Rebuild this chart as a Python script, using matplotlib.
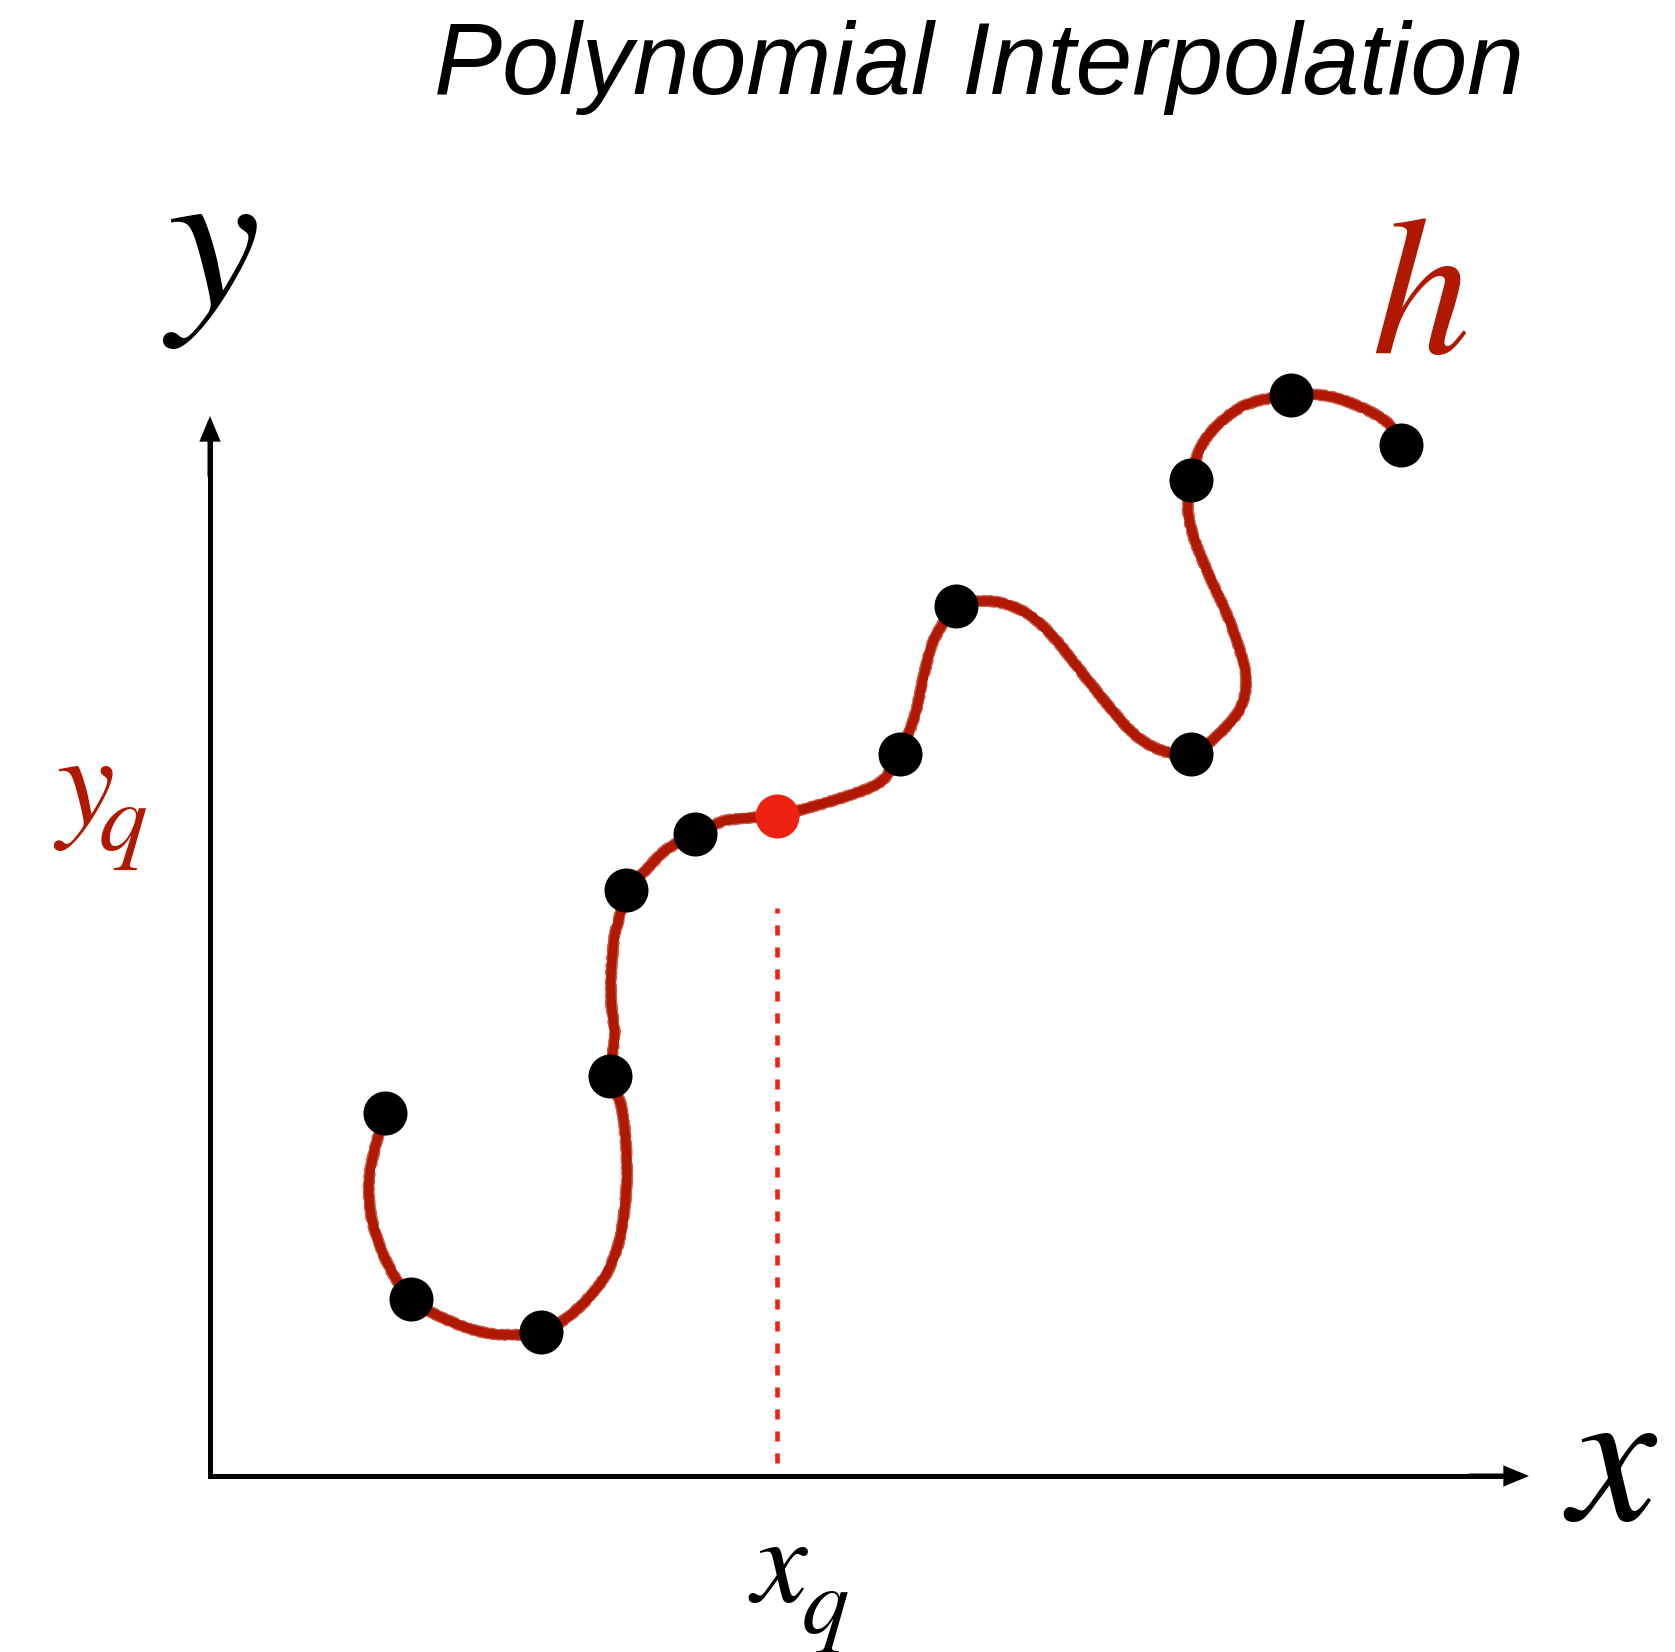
import numpy as np
import matplotlib
matplotlib.use("Agg")
import matplotlib.pyplot as plt
from matplotlib.path import Path
from matplotlib.patches import PathPatch

plt.rcParams['mathtext.fontset'] = 'stix'

# ---- data (chart units, origin at the axes corner) ----
node_x = [1.75, 2.01, 3.31, 4.00, 4.16, 4.85, 6.90, 7.46, 9.81, 9.81, 10.81, 11.91]
node_y = [3.63, 1.77, 1.44, 4.00, 5.86, 6.42, 7.22, 8.70, 7.22, 9.96, 10.81, 10.31]
query_x = 5.67
query_y = 6.60

# traced path of the interpolating curve h
curve_x = [1.753, 1.646, 1.589, 1.613, 1.713, 1.846, 2.006, 2.296, 2.629, 2.929,
           3.306, 3.629, 3.929, 4.096, 4.163, 4.163, 4.113, 4.003, 4.046, 4.013,
           4.013, 4.046, 4.096, 4.163, 4.363, 4.563, 4.846, 5.129, 5.363, 5.669,
           6.029, 6.363, 6.629, 6.763, 6.896, 7.046, 7.129, 7.213, 7.313, 7.463,
           7.829, 8.163, 8.429, 8.696, 8.963, 9.229, 9.496, 9.813, 10.063, 10.296,
           10.363, 10.296, 10.163, 9.996, 9.846, 9.779, 9.813, 9.896, 10.063, 10.363,
           10.806, 11.196, 11.563, 11.796, 11.913]
curve_y = [3.630, 3.263, 2.930, 2.596, 2.263, 1.996, 1.770, 1.596, 1.463, 1.413,
           1.440, 1.630, 1.963, 2.363, 2.863, 3.263, 3.696, 4.003, 4.396, 4.730,
           5.063, 5.396, 5.596, 5.856, 6.063, 6.263, 6.420, 6.546, 6.580, 6.603,
           6.696, 6.796, 6.896, 6.996, 7.220, 7.596, 7.963, 8.296, 8.496, 8.703,
           8.746, 8.630, 8.396, 8.063, 7.730, 7.430, 7.263, 7.220, 7.396, 7.663,
           7.963, 8.263, 8.630, 8.996, 9.363, 9.663, 9.963, 10.263, 10.496, 10.713,
           10.806, 10.796, 10.663, 10.513, 10.313]

title = "Polynomial Interpolation"

# ---- figure ----
W, H, DPI = 1675, 1652, 100
fig = plt.figure(figsize=(W / DPI, H / DPI), dpi=DPI)
ax = fig.add_axes([0, 0, 1, 1])
# 1 chart unit = 100 px; origin at pixel (210, 1476)
ax.set_xlim(-2.10, -2.10 + W / 100)
ax.set_ylim(-(H - 1476.0) / 100, 1476.0 / 100)
ax.axis('off')

CURVE = '#B01800'
QRED = '#EE2211'

# smooth curve (Catmull-Rom rendered as cubic Bezier path)
P = np.column_stack([curve_x, curve_y])
Pe = np.vstack([P[0], P, P[-1]])
verts = [tuple(P[0])]
codes = [Path.MOVETO]
for i in range(1, len(Pe) - 2):
    p0, p1, p2, p3 = Pe[i - 1], Pe[i], Pe[i + 1], Pe[i + 2]
    c1 = p1 + (p2 - p0) / 6.0
    c2 = p2 - (p3 - p1) / 6.0
    verts += [tuple(c1), tuple(c2), tuple(p2)]
    codes += [Path.CURVE4] * 3
hpath = Path(verts, codes)
base = PathPatch(hpath, facecolor='none', edgecolor=CURVE,
                 lw=6.6, capstyle='round', joinstyle='round', zorder=2)
ax.add_patch(base)
rough = PathPatch(hpath, facecolor='none', edgecolor=CURVE, alpha=0.7,
                  lw=7.6, capstyle='round', joinstyle='round', zorder=2)
rough.set_sketch_params(scale=1.0, length=2.5, randomness=8)
ax.add_patch(rough)

# axes lines and arrows
AX_LW = 3.6
ax.plot([0, 0, 13.0], [10.4, 0, 0], color='black', lw=AX_LW,
        solid_capstyle='butt', solid_joinstyle='miter', zorder=1)
head = '-|>,head_length=0.6,head_width=0.25'
ax.annotate('', xy=(0, 10.60), xytext=(0, 10.0),
            arrowprops=dict(arrowstyle=head, lw=AX_LW, color='black',
                            mutation_scale=20, shrinkA=0, shrinkB=0,
                            joinstyle='miter'), zorder=1)
ax.annotate('', xy=(13.19, 0), xytext=(12.6, 0),
            arrowprops=dict(arrowstyle=head, lw=AX_LW, color='black',
                            mutation_scale=20, shrinkA=0, shrinkB=0,
                            joinstyle='miter'), zorder=1)

# query dashed line
ax.plot([query_x, query_x], [0.13, 5.68], color=QRED, lw=3.3,
        linestyle=(0, (2.2, 2.6)), dash_capstyle='butt', zorder=1)

# points
ax.plot(node_x, node_y, 'o', color='black', ms=31.7, mew=0, zorder=3)
ax.plot([query_x], [query_y], 'o', color=QRED, ms=31.7, mew=0, zorder=3)

# texts
ax.text(7.69, 13.82, title, family='Liberation Sans', style='italic',
        fontsize=73.5, ha='center', va='baseline')
ax.text(0.0, 12.26, r'$y$', fontsize=150, ha='center', va='center', color='black')
ax.text(12.09, 11.77, r'$h$', fontsize=142, ha='center', va='center', color=CURVE)
ax.text(14.01, 0.10, r'$x$', fontsize=142, ha='center', va='center', color='black')

# y_q label (base glyph + lowered subscript)
ax.text(-1.27, 6.52, r'$y$', fontsize=94, ha='center', va='baseline', color=CURVE)
ax.text(-0.87, 6.26, r'$q$', fontsize=70, ha='center', va='baseline', color=CURVE)
# x_q label
ax.text(5.69, -1.26, r'$x$', fontsize=90, ha='center', va='baseline', color='black')
ax.text(6.15, -1.57, r'$q$', fontsize=68, ha='center', va='baseline', color='black')

fig.savefig('out.png', dpi=DPI, facecolor='white')
